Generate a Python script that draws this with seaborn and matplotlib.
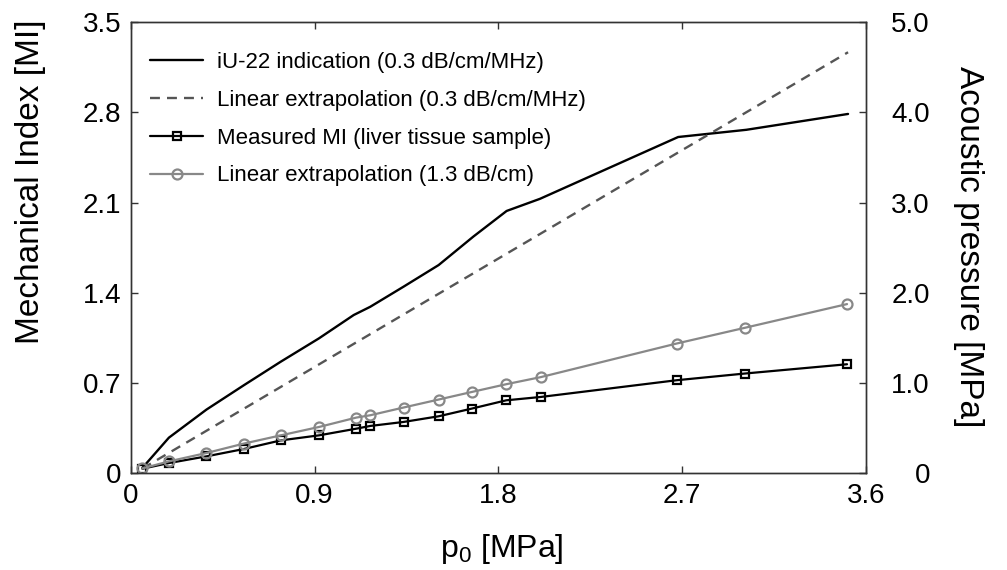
import matplotlib
matplotlib.use("Agg")
import matplotlib.pyplot as plt
import seaborn as sns
import numpy as np

# ---- data ----
p0_meas = [0.056, 0.186, 0.370, 0.553, 0.734, 0.921, 1.104, 1.172, 1.335,
           1.507, 1.670, 1.838, 2.007, 2.673, 3.007, 3.507]
mi_measured = [0.034, 0.078, 0.130, 0.187, 0.254, 0.293, 0.345, 0.366, 0.397,
               0.441, 0.501, 0.565, 0.591, 0.721, 0.773, 0.845]
mi_extrap_13 = [0.036, 0.091, 0.156, 0.229, 0.293, 0.358, 0.431, 0.449, 0.509,
                0.571, 0.630, 0.690, 0.745, 1.006, 1.128, 1.312]

p0_iu22 = [0.056, 0.186, 0.370, 0.553, 0.732, 0.920, 1.091, 1.172, 1.335,
           1.507, 1.677, 1.840, 2.003, 2.680, 3.014, 3.512]
mi_iu22 = [0.040, 0.275, 0.493, 0.682, 0.863, 1.045, 1.227, 1.291, 1.447,
           1.615, 1.836, 2.035, 2.129, 2.609, 2.665, 2.788]

p0_lin03 = [0.056, 3.512]
mi_lin03 = [0.035, 3.267]

labels = ["iU-22 indication (0.3 dB/cm/MHz)",
          "Linear extrapolation (0.3 dB/cm/MHz)",
          "Measured MI (liver tissue sample)",
          "Linear extrapolation (1.3 dB/cm)"]

x_ticks = [0, 0.9, 1.8, 2.7, 3.6]
x_ticklabels = ["0", "0.9", "1.8", "2.7", "3.6"]
y_ticks = [0, 0.7, 1.4, 2.1, 2.8, 3.5]
y_ticklabels = ["0", "0.7", "1.4", "2.1", "2.8", "3.5"]
y2_ticks = [0, 1, 2, 3, 4, 5]
y2_ticklabels = ["0", "1.0", "2.0", "3.0", "4.0", "5.0"]

# ---- style ----
sns.set_style("ticks")
plt.rcParams["font.family"] = ["Liberation Sans", "DejaVu Sans"]
plt.rcParams["mathtext.fontset"] = "custom"
plt.rcParams["mathtext.rm"] = "Liberation Sans"
plt.rcParams["mathtext.it"] = "Liberation Sans:italic"
plt.rcParams["text.color"] = "black"
plt.rcParams["xtick.color"] = "black"
plt.rcParams["ytick.color"] = "black"
plt.rcParams["xtick.labelcolor"] = "black"
plt.rcParams["ytick.labelcolor"] = "black"

fig = plt.figure(figsize=(10.07, 5.70), dpi=100)
ax = fig.add_axes([0.130, 0.170, 0.730, 0.791])

sns.lineplot(x=p0_iu22, y=mi_iu22, ax=ax, color="black", lw=1.7,
             label=labels[0], sort=False)
sns.lineplot(x=p0_lin03, y=mi_lin03, ax=ax, color="#555555", lw=1.7,
             linestyle=(0, (4.2, 3.0)), label=labels[1], sort=False)
sns.lineplot(x=p0_meas, y=mi_measured, ax=ax, color="black", lw=1.6,
             marker="s", markersize=5.8, markerfacecolor="none",
             markeredgecolor="black", markeredgewidth=1.6,
             label=labels[2], sort=False)
sns.lineplot(x=p0_meas, y=mi_extrap_13, ax=ax, color="#888888", lw=1.6,
             marker="o", markersize=7.2, markerfacecolor="none",
             markeredgecolor="#888888", markeredgewidth=1.6,
             label=labels[3], sort=False)

ax.set_xlim(0, 3.6)
ax.set_ylim(0, 3.5)
ax.set_xticks(x_ticks)
ax.set_xticklabels(x_ticklabels)
ax.set_yticks(y_ticks)
ax.set_yticklabels(y_ticklabels)
ax.set_xlabel("")
ax.set_ylabel("")

spine_color = "#333333"
for s in ax.spines.values():
    s.set_visible(True)
    s.set_color(spine_color)
    s.set_linewidth(1.0)

ax.tick_params(axis="both", direction="in", length=5, width=1.0,
               color=spine_color, labelcolor="black", labelsize=20, pad=7,
               top=True)
ax.tick_params(axis="y", right=False)

ax2 = ax.twinx()
ax2.set_ylim(0, 5)
ax2.set_yticks(y2_ticks)
ax2.set_yticklabels(y2_ticklabels)
ax2.tick_params(axis="y", direction="in", length=5, width=1.0,
                color=spine_color, labelcolor="black", labelsize=20, pad=46)
for lbl in ax2.get_yticklabels():
    lbl.set_horizontalalignment("right")
for s in ax2.spines.values():
    s.set_color(spine_color)
    s.set_linewidth(1.0)

leg = ax.legend(loc="upper left", bbox_to_anchor=(0.005, 0.969), frameon=False,
                fontsize=16, handlelength=2.4, handletextpad=0.6,
                labelspacing=0.76, borderaxespad=0.3)
for t in leg.get_texts():
    t.set_color("black")

fig.text(0.030, 0.682, "Mechanical Index [MI]", rotation=90, ha="center",
         va="center", fontsize=24, color="black")
fig.text(0.962, 0.568, "Acoustic pressure [MPa]", rotation=270, ha="center",
         va="center", fontsize=24, color="black")
fig.text(0.4985, 0.037, r"p$_{\mathrm{0}}$ [MPa]", ha="center", va="center",
         fontsize=23, color="black")

fig.savefig("out.png", dpi=100)
